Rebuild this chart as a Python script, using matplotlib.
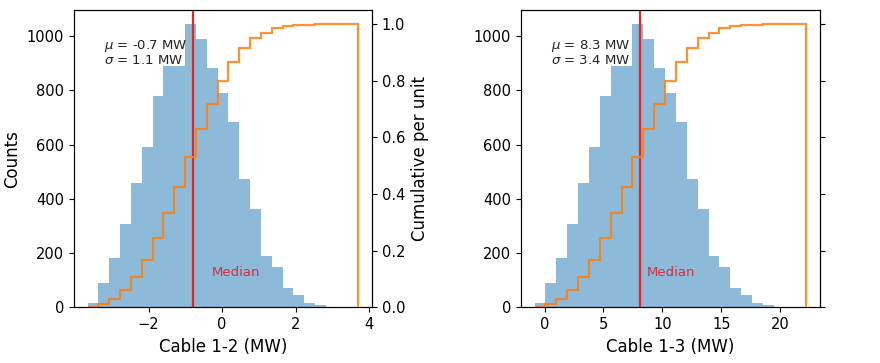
import matplotlib
matplotlib.use("Agg")
import matplotlib.pyplot as plt
import numpy as np

# counts per bin (same shape in both panels)
counts_12 = [18, 92, 184, 309, 457, 593, 780, 891, 891, 1044, 991, 884, 791,
             682, 474, 362, 189, 150, 70, 46, 18, 9, 3, 1, 1]
counts_13 = [18, 92, 184, 309, 457, 593, 780, 891, 891, 1044, 991, 884, 791,
             682, 474, 362, 189, 150, 70, 46, 18, 9, 3, 1, 1]

range_12 = (-3.66, 3.71)   # min / max of the samples (MW)
range_13 = (-0.85, 22.23)
median_12 = -0.79
median_13 = 8.10
stats_12 = ("-0.7", "1.1")  # mu, sigma
stats_13 = ("8.3", "3.4")
labels = ["Cable 1-2 (MW)", "Cable 1-3 (MW)"]
xticks_12 = [-2, 0, 2, 4]
xticks_13 = [0, 5, 10, 15, 20]
median_txt_x = [-0.27, 8.65]
median_txt_y = 115

fig = plt.figure(figsize=(8.8, 3.63), dpi=100)
ax_l = fig.add_axes([0.0841, 0.1529, 0.3386, 0.8196])
ax_r = fig.add_axes([0.592, 0.1529, 0.3398, 0.8196])

panels = [
    (ax_l, counts_12, range_12, median_12, stats_12, xticks_12, True),
    (ax_r, counts_13, range_13, median_13, stats_13, xticks_13, False),
]

for i, (ax, counts, rng, med, st, xt, first) in enumerate(panels):
    edges = np.linspace(rng[0], rng[1], len(counts) + 1)
    centers = (edges[:-1] + edges[1:]) / 2
    ax.hist(centers, bins=edges, weights=counts, color="C0", alpha=0.5)
    ax.axvline(med, color="#e0262a", lw=1.6)
    ax.text(median_txt_x[i], median_txt_y, "Median", color="#d03040",
            fontsize=9.5)
    ax.text(0.1, 0.905, "$\\mu$ = %s MW\n$\\sigma$ = %s MW" % st,
            transform=ax.transAxes, va="top", fontsize=9.5,
            linespacing=0.95, color="#222222")
    ax.set_xticks(xt)
    ax.set_yticks([0, 200, 400, 600, 800, 1000])
    ax.tick_params(labelsize=10.5)
    ax.set_xlabel(labels[i], fontsize=12)

    ax2 = ax.twinx()
    ax2.hist(centers, bins=edges, weights=counts, cumulative=True,
             density=True, histtype="step", color="C1", lw=1.6, alpha=0.85)
    ax2.set_yticks([0.0, 0.2, 0.4, 0.6, 0.8, 1.0])
    ax2.tick_params(labelsize=10.5)
    if first:
        ax.set_ylabel("Counts", fontsize=12)
        ax2.set_ylabel("Cumulative per unit", fontsize=12)
    else:
        ax2.tick_params(labelright=False)

fig.savefig("out.png", dpi=100)
